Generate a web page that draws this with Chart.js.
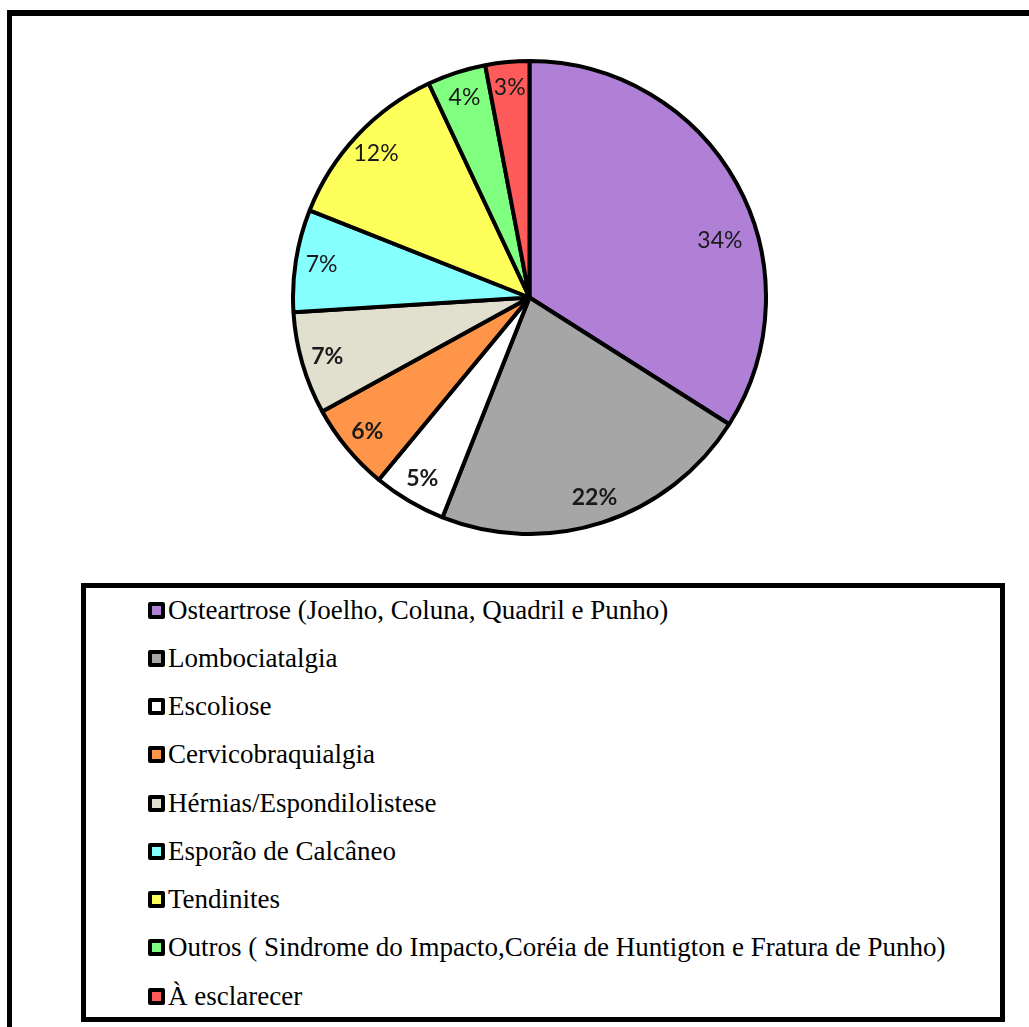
<!DOCTYPE html>
<html>
<head>
<meta charset="utf-8">
<script src="https://cdn.jsdelivr.net/npm/chart.js"></script>
<style>
  body { margin: 0; background: #fff; width: 1029px; height: 1027px; overflow: hidden; position: relative; }
  #frame { position: absolute; left: 7px; top: 10px; width: 1100px; height: 1100px; border-left: 5px solid #000; border-top: 6px solid #000; }
  #pie { position: absolute; left: 291px; top: 59px; }
  #legend { position: absolute; left: 81px; top: 583px; width: 924px; height: 439px; box-sizing: border-box; border: 5px solid #000; background: #fff; }
  .item { position: absolute; left: 62px; height: 24px; display: flex; align-items: center; font-family: "Liberation Serif", serif; font-size: 27px; color: #000; white-space: nowrap; }
  .box { width: 17px; height: 17px; box-sizing: border-box; border: 4px solid #000; border-radius: 2px; margin-right: 3px; flex: none; }
</style>
</head>
<body>
<div id="frame"></div>
<canvas id="pie" width="477" height="477"></canvas>
<div id="legend"></div>
<script>
var categories = ["Osteartrose (Joelho, Coluna, Quadril e Punho)", "Lombociatalgia", "Escoliose", "Cervicobraquialgia", "Hérnias/Espondilolistese", "Esporão de Calcâneo", "Tendinites", "Outros ( Sindrome do Impacto,Coréia de Huntigton e Fratura de Punho)", "À esclarecer"];
var percents = [34, 22, 5, 6, 7, 7, 12, 4, 3];
var sliceColors = ["#B07FD6", "#A6A6A6", "#FFFFFF", "#FF9548", "#E1DFCE", "#86FFFF", "#FFFF5C", "#80FF80", "#FF5B5B"];
var boldLabel = [false, true, true, true, true, false, false, false, false];

// percentage labels inside the slices (first slice label sits a bit past the middle, like excel did)
var sliceLabels = {
  id: "sliceLabels",
  afterDatasetsDraw: function(chart) {
    var ctx = chart.ctx;
    var arcs = chart.getDatasetMeta(0).data;
    ctx.save();
    ctx.textAlign = "center";
    ctx.textBaseline = "middle";
    ctx.fillStyle = "#1a1a1a";
    arcs.forEach(function(arc, i) {
      var p = arc.getProps(["x", "y", "startAngle", "endAngle", "outerRadius"], true);
      var along = i == 0 ? 0.6 : 0.5;
      var mid = p.startAngle + (p.endAngle - p.startAngle) * along;
      var r = p.outerRadius * (i == 0 ? 0.84 : 0.89);
      ctx.font = (boldLabel[i] ? "bold " : "") + "23px Lato, sans-serif";
      ctx.fillText(percents[i] + "%", p.x + Math.cos(mid) * r, p.y + Math.sin(mid) * r);
    });
    ctx.restore();
  }
};

new Chart("pie", {
  type: "pie",
  data: {
    labels: categories,
    datasets: [{
      data: percents,
      backgroundColor: sliceColors,
      borderColor: "#000",
      borderWidth: 4
    }]
  },
  options: {
    responsive: false,
    animation: false,
    layout: { padding: 0 },
    plugins: {
      legend: { display: false },
      tooltip: { enabled: false }
    }
  },
  plugins: [sliceLabels]
});

var legend = document.getElementById("legend");
categories.forEach(function(name, i) {
  var row = document.createElement("div");
  row.className = "item";
  row.style.top = (22 + i * 48.25 - 12) + "px";
  var box = document.createElement("span");
  box.className = "box";
  box.style.background = sliceColors[i];
  var txt = document.createElement("span");
  txt.textContent = name;
  row.appendChild(box);
  row.appendChild(txt);
  legend.appendChild(row);
});
</script>
</body>
</html>
